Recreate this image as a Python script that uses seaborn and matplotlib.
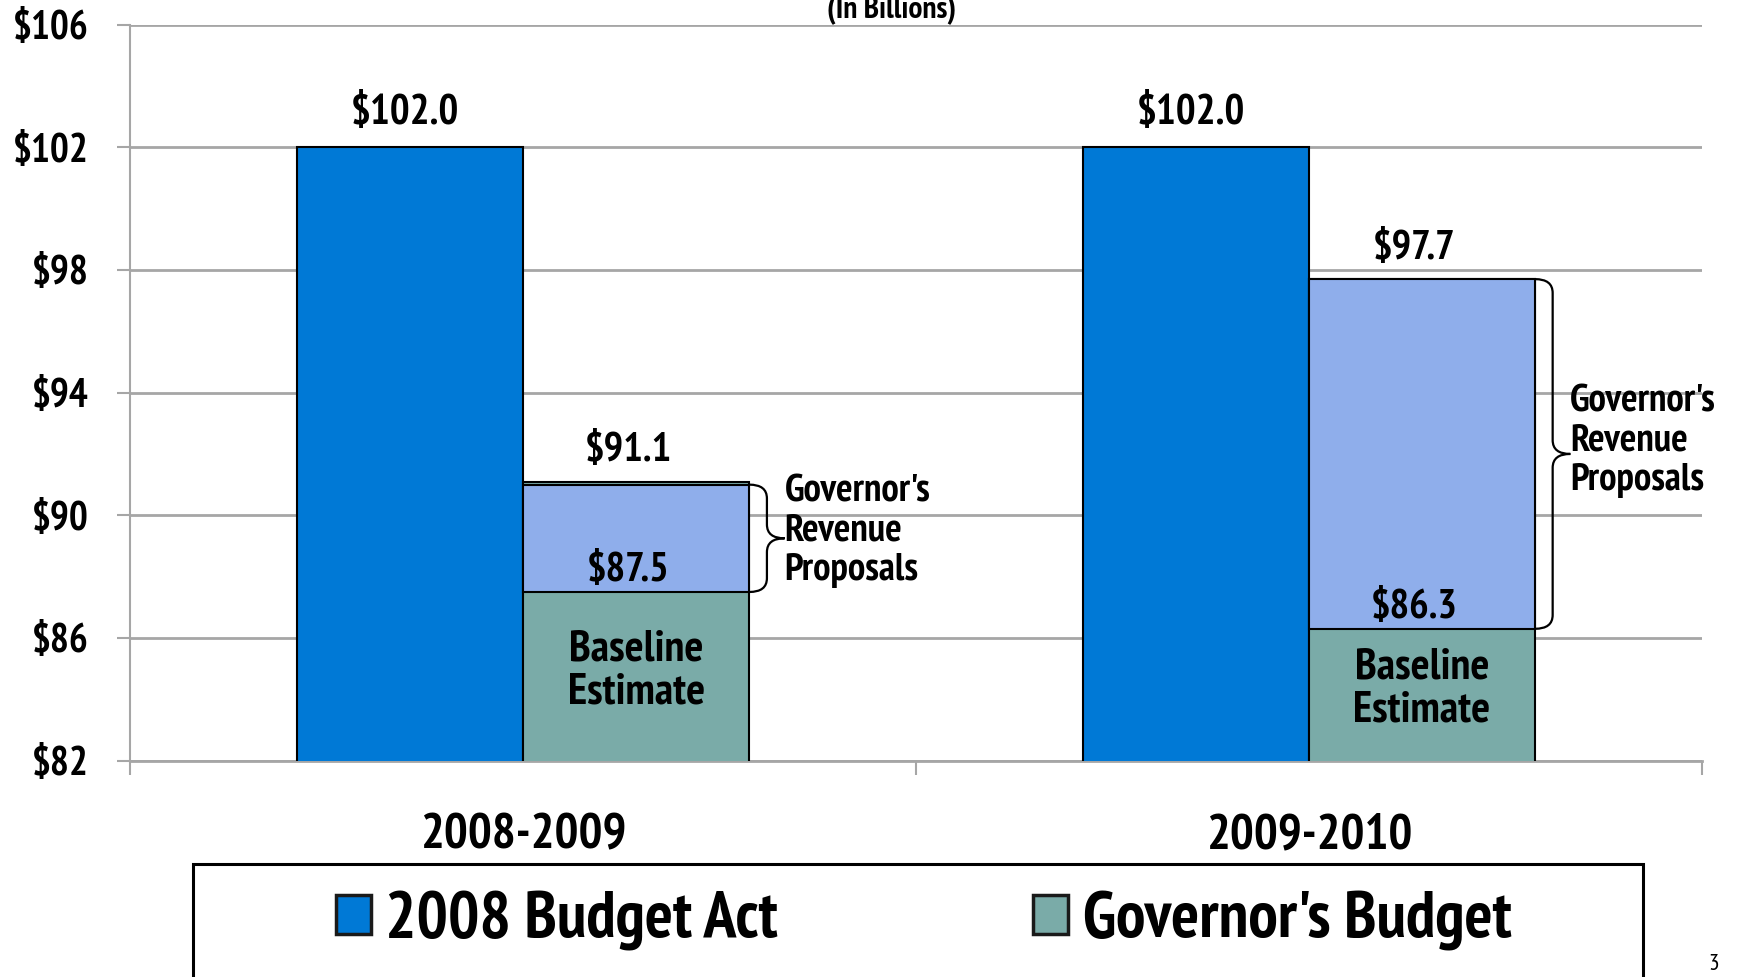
import numpy as np
import pandas as pd
import matplotlib
matplotlib.use("Agg")
import matplotlib.pyplot as plt
import seaborn as sns
from matplotlib import font_manager as fm
from matplotlib.path import Path
from matplotlib.patches import PathPatch, Rectangle

# ---- data ----
years = ["2008-2009", "2009-2010"]
series_names = ["2008 Budget Act", "Governor's Budget"]
budget_act = [102.0, 102.0]
governor_budget = [91.1, 97.7]
baseline_estimate = [87.5, 86.3]
proposal_box_top = [91.0, 97.7]
y_ticks = [82, 86, 90, 94, 98, 102, 106]

# ---- style ----
sns.set_theme(style="white")
avail = {f.name for f in fm.fontManager.ttflist}
FONT = 'Liberation Sans'
for cand in ['Liberation Sans Narrow', 'Arial Narrow', 'PT Sans Narrow', 'Roboto Condensed',
             'Archivo Narrow', 'Open Sans Condensed', 'IBM Plex Sans Condensed']:
    if cand in avail:
        FONT = cand
        break
plt.rcParams['font.family'] = [FONT, 'Liberation Sans', 'DejaVu Sans']
plt.rcParams['font.weight'] = 'bold'
plt.rcParams['text.color'] = 'black'
plt.rcParams['xtick.color'] = 'black'
plt.rcParams['ytick.color'] = 'black'

BLUE = "#0079D6"
TEAL = "#7AABA8"
LIGHT = "#8FAEEB"
GRID = "#A6A6A6"

df = pd.DataFrame({
    "year": years * 2,
    "series": [series_names[0]] * 2 + [series_names[1]] * 2,
    "value": budget_act + governor_budget,
})

fig = plt.figure(figsize=(17.49, 9.77), dpi=100)
ax = fig.add_axes([0.0746, 0.2214, 0.8985, 0.7535])
ax.set_axisbelow(True)

sns.barplot(data=df, x="year", y="value", hue="series", hue_order=series_names,
            order=years, palette=[BLUE, TEAL], width=0.575, saturation=1,
            edgecolor="black", linewidth=1.5, ax=ax, legend=False, zorder=3)

ax.set_ylim(82, 106)
ax.set_xlim(-0.5, 1.5)
ax.set_yticks(y_ticks)
ax.set_yticklabels([f"${v}" for v in y_ticks])
ax.set_xticks([0, 1])
ax.set_xticklabels(years)
ax.set_xticks([-0.5, 0.5, 1.5], minor=True)
ax.set_xlabel("")
ax.set_ylabel("")

ax.yaxis.grid(True, color=GRID, lw=2)
ax.xaxis.grid(False)
for s in ["top", "right"]:
    ax.spines[s].set_visible(False)
ax.spines["left"].set_color(GRID)
ax.spines["left"].set_linewidth(1.5)
ax.spines["bottom"].set_color(GRID)
ax.spines["bottom"].set_linewidth(2)

ax.tick_params(axis='y', left=True, length=9.4, width=1.5, color=GRID, pad=21,
               labelsize=28.5, labelcolor='black')
ax.tick_params(axis='x', which='major', bottom=False, length=0, pad=38, labelsize=36,
               labelcolor='black')
ax.tick_params(axis='x', which='minor', bottom=True, length=10.4, width=1.5, color=GRID)
for lab in ax.get_yticklabels() + ax.get_xticklabels():
    lab.set_fontweight('bold')

# ---- overlay proposal boxes ----
gov_patches = ax.containers[1].patches
act_patches = ax.containers[0].patches
for i, p in enumerate(gov_patches):
    ax.bar(p.get_x(), proposal_box_top[i] - baseline_estimate[i], bottom=baseline_estimate[i],
           width=p.get_width(), align='edge', color=LIGHT, edgecolor='black', linewidth=1.5,
           zorder=4)


def draw_brace(ax, x0, yb, yt, w, r):
    xm = x0 + w * 0.5
    ym = (yb + yt) / 2
    verts = [
        (x0, yt), (xm, yt), (xm, yt - r),
        (xm, ym + r),
        (xm, ym), (x0 + w, ym),
        (xm, ym), (xm, ym - r),
        (xm, yb + r),
        (xm, yb), (x0, yb),
    ]
    codes = [Path.MOVETO, Path.CURVE3, Path.CURVE3,
             Path.LINETO,
             Path.CURVE3, Path.CURVE3,
             Path.CURVE3, Path.CURVE3,
             Path.LINETO,
             Path.CURVE3, Path.CURVE3]
    ax.add_patch(PathPatch(Path(verts, codes), fill=False, ec='black', lw=1.6,
                           zorder=5, clip_on=False))
    return x0 + w, ym


text_dy = [5, 9]
for i, p in enumerate(gov_patches):
    x_right = p.get_x() + p.get_width()
    tip_x, tip_y = draw_brace(ax, x_right, baseline_estimate[i], proposal_box_top[i], 0.045, 0.45)
    ax.annotate("Governor's\nRevenue\nProposals", (tip_x, tip_y), xytext=(0, text_dy[i]),
                textcoords='offset points', ha='left', va='center', fontsize=28,
                fontweight='bold', annotation_clip=False, zorder=6, linespacing=1.15)

# ---- value labels ----
for i, p in enumerate(act_patches):
    ax.annotate(f"${budget_act[i]:.1f}", (p.get_x() + p.get_width() / 2, budget_act[i]),
                xytext=(-4, 10), textcoords='offset points', ha='center', va='bottom',
                fontsize=30, fontweight='bold', zorder=6)

for i, p in enumerate(gov_patches):
    cx = p.get_x() + p.get_width() / 2
    ax.annotate(f"${governor_budget[i]:.1f}", (cx, governor_budget[i]),
                xytext=(-6, 9), textcoords='offset points', ha='center', va='bottom',
                fontsize=29.5, fontweight='bold', zorder=6)
    ax.annotate(f"${baseline_estimate[i]:.1f}", (cx, baseline_estimate[i]),
                xytext=(-6, 2), textcoords='offset points', ha='center', va='bottom',
                fontsize=29.5, fontweight='bold', zorder=6)
    ax.annotate("Baseline\nEstimate", (cx, (82 + baseline_estimate[i]) / 2),
                xytext=(0, 4), textcoords='offset points', ha='center', va='center',
                fontsize=32, fontweight='bold', zorder=6, linespacing=1.1)

# ---- titles / extras ----
fig.text(892 / 1749, 1 - 18 / 977, "(In Billions)", ha='center', va='baseline',
         fontsize=22.5, fontweight='bold')
fig.text(1714 / 1749, 1 - 965 / 977, "3", ha='center', va='center', fontsize=17,
         fontweight='normal')

# ---- legend ----
handles = [Rectangle((0, 0), 1, 1, fc=BLUE, ec='#1a1a1a', lw=2.5),
           Rectangle((0, 0), 1, 1, fc=TEAL, ec='#1a1a1a', lw=2.5)]
leg = fig.legend(handles, series_names, loc='center', bbox_to_anchor=(0.528, 1 - 921 / 977),
                 ncol=2, frameon=False, fontsize=47.5, handlelength=0.53, handleheight=0.53,
                 handletextpad=0.22, columnspacing=3.87)
for t in leg.get_texts():
    t.set_fontweight('bold')

fig.patches.append(Rectangle((193 / 1749, -0.05), (1643 - 193) / 1749, (1 - 864 / 977) + 0.05,
                             transform=fig.transFigure, fill=False, ec='black', lw=2.2,
                             clip_on=False, figure=fig))

fig.savefig("out.png", dpi=100)
